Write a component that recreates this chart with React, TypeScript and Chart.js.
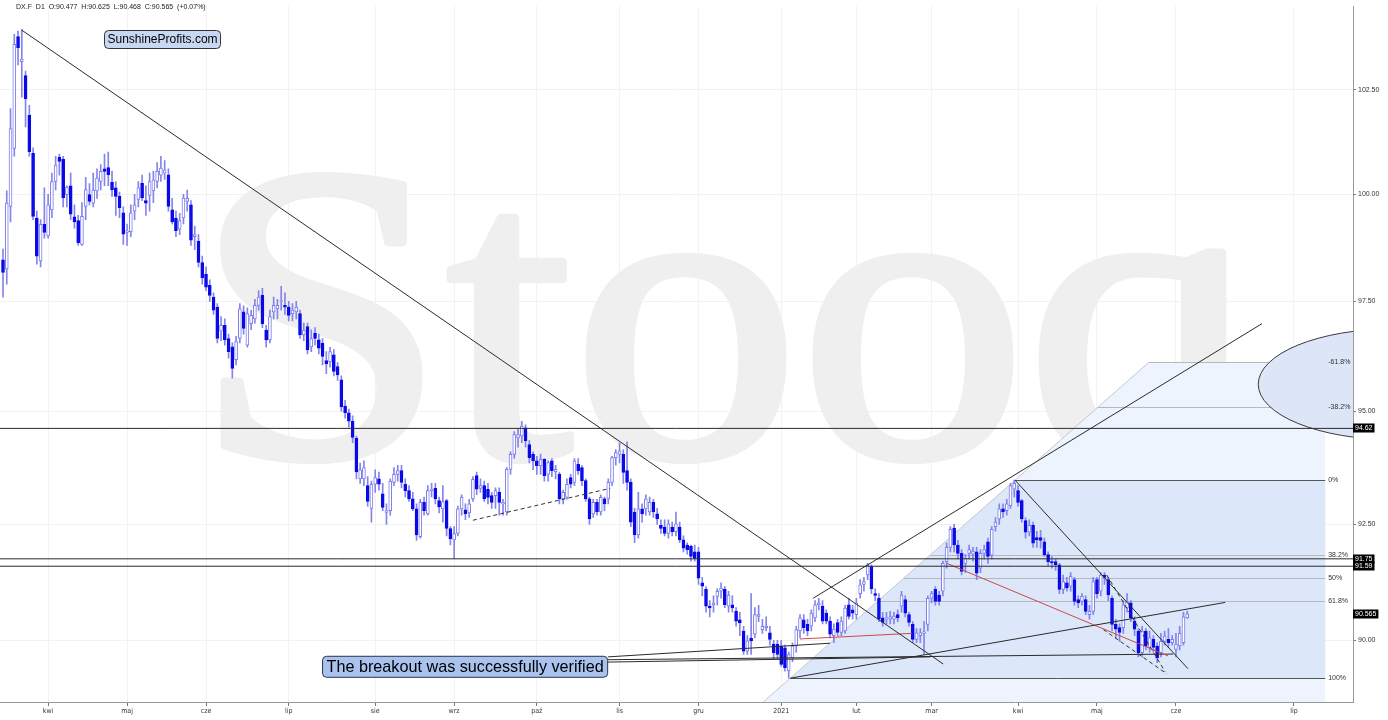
import React, { useEffect, useRef } from "react";
import { Chart, registerables } from "chart.js";

Chart.register(...registerables);

// ---- Daily candles of DX.F, each row [open, high, low, close] ----
const mar2020 = [
  [98.46, 98.71, 97.6, 98.17], [98.25, 100.08, 97.9, 99.79], [99.71, 102.04, 99.35, 101.56],
  [101.09, 103.85, 100.9, 103.6], [103.79, 103.93, 103.1, 103.52], [103.18, 103.97, 102.32, 103.24],
  [102.84, 102.95, 101.6, 102.28], [101.88, 102.12, 100.9, 101.01], [100.97, 101.1, 99.4, 99.48],
  [99.44, 99.6, 98.36, 98.55], [98.44, 99.4, 98.3, 99.29], [99.29, 100.15, 98.97, 99.1],
];
const apr2020 = [
  [99.02, 100.0, 98.97, 99.75], [99.63, 100.5, 99.45, 100.3], [100.3, 100.9, 100.1, 100.69],
  [100.88, 100.95, 100.45, 100.78], [100.83, 100.9, 99.7, 99.92], [99.99, 100.2, 99.7, 100.17],
  [100.2, 100.5, 99.4, 99.53], [99.47, 99.75, 99.2, 99.35], [99.38, 99.5, 98.8, 98.86],
  [98.82, 99.8, 98.8, 99.48], [99.71, 100.4, 99.4, 100.11], [99.99, 100.25, 99.75, 99.83],
  [99.79, 100.5, 99.7, 100.1], [100.08, 100.6, 99.9, 100.38], [100.3, 100.7, 100.1, 100.54],
  [100.6, 100.95, 100.2, 100.54], [100.63, 101.0, 100.2, 100.46], [100.28, 100.55, 99.95, 100.1],
  [100.15, 100.3, 99.5, 99.95], [99.95, 100.05, 99.45, 99.68], [99.56, 99.7, 98.82, 99.06],
];
const may2020 = [
  [99.1, 99.3, 98.8, 99.14], [99.12, 99.75, 99.0, 99.56], [99.6, 100.0, 99.4, 99.75],
  [99.88, 100.3, 99.7, 100.15], [100.26, 100.45, 99.85, 99.91], [99.85, 100.2, 99.5, 99.79],
  [99.97, 100.5, 99.6, 100.3], [100.08, 100.55, 99.8, 100.34], [100.3, 100.75, 100.15, 100.54],
  [100.45, 100.9, 100.3, 100.62], [100.5, 100.8, 100.35, 100.58], [100.46, 100.6, 99.6, 99.71],
  [99.63, 99.9, 99.3, 99.35], [99.44, 99.6, 99.0, 99.14], [99.18, 99.55, 99.05, 99.38],
  [99.44, 100.0, 99.3, 99.91], [99.83, 100.1, 99.6, 99.9], [99.75, 99.85, 98.8, 98.92],
  [99.0, 99.25, 98.7, 99.05], [98.9, 99.05, 98.3, 98.4], [98.4, 98.55, 97.9, 98.05],
];
const jun2020 = [
  [98.13, 98.3, 97.75, 97.83], [97.87, 98.0, 97.5, 97.64], [97.6, 97.7, 97.2, 97.3],
  [97.37, 97.45, 96.55, 96.65], [96.82, 97.15, 96.6, 96.95], [96.95, 97.1, 96.5, 96.62],
  [96.65, 96.75, 96.2, 96.35], [96.46, 96.55, 95.75, 95.97], [96.17, 96.7, 96.05, 96.58],
  [96.65, 97.45, 96.55, 97.33], [97.26, 97.4, 96.75, 96.88], [96.5, 97.35, 96.45, 97.22],
  [96.99, 97.3, 96.85, 97.18], [97.1, 97.55, 97.0, 97.41], [97.41, 97.75, 97.3, 97.6],
  [97.64, 97.8, 96.9, 96.99], [96.84, 96.95, 96.45, 96.62], [96.62, 97.3, 96.55, 97.15],
  [97.26, 97.6, 97.1, 97.41], [97.33, 97.55, 97.1, 97.41], [97.5, 97.85, 97.3, 97.52],
  [97.41, 97.7, 97.2, 97.37],
];
const jul2020 = [
  [97.37, 97.5, 97.05, 97.18], [97.22, 97.45, 97.05, 97.3], [97.26, 97.5, 97.1, 97.37],
  [97.22, 97.3, 96.65, 96.73], [96.73, 97.0, 96.6, 96.84], [96.92, 97.0, 96.3, 96.39],
  [96.46, 96.85, 96.35, 96.65], [96.77, 96.9, 96.5, 96.65], [96.62, 96.75, 96.3, 96.43],
  [96.54, 96.65, 96.05, 96.24], [96.15, 96.35, 95.85, 96.07], [96.12, 96.45, 96.0, 96.35],
  [96.28, 96.4, 95.8, 95.9], [96.01, 96.1, 95.7, 95.82], [95.71, 95.8, 95.0, 95.1],
  [95.12, 95.25, 94.85, 94.97], [94.97, 95.05, 94.65, 94.78], [94.78, 94.9, 94.3, 94.42],
  [94.4, 94.45, 93.5, 93.65], [93.5, 93.85, 93.4, 93.7], [93.5, 93.9, 93.35, 93.75],
  [93.35, 93.55, 92.9, 93.0], [92.85, 93.45, 92.55, 93.38],
];
const aug2020 = [
  [93.38, 93.7, 93.2, 93.53], [93.5, 93.65, 93.25, 93.38], [93.17, 93.4, 92.8, 92.87],
  [92.76, 92.95, 92.5, 92.8], [92.8, 93.5, 92.7, 93.45], [93.42, 93.75, 93.35, 93.6],
  [93.6, 93.8, 93.45, 93.68], [93.68, 93.8, 93.3, 93.42], [93.38, 93.5, 93.1, 93.24],
  [93.24, 93.35, 93.0, 93.06], [93.06, 93.2, 92.8, 92.84], [92.84, 92.95, 92.15, 92.27],
  [92.23, 93.05, 92.2, 92.98], [92.98, 93.1, 92.7, 92.8], [92.73, 93.35, 92.7, 93.24],
  [93.24, 93.4, 93.1, 93.27], [93.29, 93.4, 92.95, 93.06], [93.02, 93.1, 92.75, 92.88],
  [92.84, 93.35, 92.55, 93.0], [93.02, 93.05, 92.25, 92.41], [92.41, 92.45, 92.05, 92.19],
];
const sep2020 = [
  [92.16, 92.45, 91.76, 92.3], [92.3, 92.9, 92.25, 92.84], [92.84, 93.15, 92.7, 93.09],
  [92.82, 92.95, 92.6, 92.73], [92.75, 93.05, 92.65, 92.95], [93.06, 93.55, 93.0, 93.49],
  [93.57, 93.65, 93.15, 93.27], [93.29, 93.5, 93.2, 93.35], [93.35, 93.45, 93.0, 93.06],
  [93.27, 93.4, 92.95, 93.09], [93.13, 93.2, 92.85, 92.98], [93.13, 93.3, 92.85, 93.24],
  [93.2, 93.3, 92.7, 92.98], [92.95, 93.05, 92.7, 92.98], [92.77, 93.75, 92.7, 93.71],
  [93.71, 94.1, 93.6, 94.04], [94.04, 94.55, 93.95, 94.48], [94.41, 94.6, 94.2, 94.48],
  [94.45, 94.78, 94.3, 94.67], [94.63, 94.7, 94.2, 94.34], [94.26, 94.35, 93.85, 93.97],
  [94.04, 94.1, 93.7, 93.9],
];
const oct2020 = [
  [93.9, 94.0, 93.6, 93.79], [93.79, 94.05, 93.6, 93.93], [93.93, 93.95, 93.45, 93.57],
  [93.6, 93.9, 93.45, 93.86], [93.9, 93.95, 93.55, 93.68], [93.66, 93.8, 93.5, 93.71],
  [93.6, 93.65, 92.95, 93.06], [93.06, 93.25, 92.95, 93.2], [93.09, 93.5, 93.05, 93.38],
  [93.53, 93.6, 93.3, 93.38], [93.42, 93.95, 93.35, 93.9], [93.82, 93.95, 93.6, 93.68],
  [93.75, 93.8, 93.35, 93.46], [93.46, 93.5, 93.0, 93.06], [93.06, 93.1, 92.5, 92.62],
  [92.73, 93.05, 92.65, 92.98], [92.98, 93.05, 92.7, 92.77], [92.77, 93.15, 92.7, 93.09],
  [93.06, 93.1, 92.8, 92.95], [93.06, 93.5, 92.95, 93.42], [93.42, 94.0, 93.35, 93.97],
  [93.97, 94.15, 93.8, 94.08],
];
const nov2020 = [
  [94.04, 94.3, 93.85, 94.12], [94.04, 94.15, 93.4, 93.64], [93.68, 94.32, 93.25, 93.42],
  [93.42, 93.5, 92.45, 92.55], [92.77, 92.85, 92.1, 92.27], [92.27, 93.2, 92.2, 92.84],
  [92.84, 92.95, 92.55, 92.73], [92.84, 93.15, 92.7, 93.06], [92.77, 93.1, 92.7, 92.98],
  [92.98, 93.05, 92.65, 92.77], [92.73, 92.85, 92.5, 92.62], [92.48, 92.6, 92.3, 92.41],
  [92.44, 92.6, 92.25, 92.3], [92.3, 92.6, 92.2, 92.51], [92.44, 92.55, 92.25, 92.34],
  [92.34, 92.77, 92.25, 92.51], [92.44, 92.55, 92.1, 92.16], [92.16, 92.25, 91.9, 91.98],
  [92.05, 92.1, 91.85, 91.95], [92.02, 92.05, 91.7, 91.8], [91.9, 92.05, 91.7, 91.76],
];
const dec2020 = [
  [91.9, 92.0, 91.2, 91.33], [91.23, 91.35, 90.95, 91.16], [91.09, 91.15, 90.6, 90.73],
  [90.73, 90.85, 90.5, 90.69], [90.76, 90.95, 90.6, 90.8], [90.94, 91.1, 90.75, 91.05],
  [91.05, 91.23, 90.9, 91.12], [91.09, 91.15, 90.7, 90.76], [90.73, 91.05, 90.6, 90.97],
  [90.76, 90.95, 90.6, 90.69], [90.62, 90.7, 90.3, 90.41], [90.44, 90.6, 90.1, 90.37],
  [90.2, 90.3, 89.7, 89.77], [89.77, 90.1, 89.7, 89.99], [90.05, 91.0, 89.7, 89.99],
  [90.13, 90.7, 90.05, 90.55], [90.51, 90.75, 90.4, 90.55], [90.23, 90.45, 90.15, 90.3],
  [90.27, 90.5, 90.2, 90.31], [90.16, 90.3, 89.9, 90.02], [89.92, 90.0, 89.6, 89.74],
  [89.92, 90.0, 89.6, 89.7],
];
const jan2021 = [
  [89.88, 90.0, 89.45, 89.49], [89.84, 89.9, 89.35, 89.42], [89.36, 89.75, 89.2, 89.7],
  [89.63, 89.95, 89.55, 89.88], [89.88, 90.3, 89.75, 90.23], [90.2, 90.55, 90.05, 90.48],
  [90.44, 90.55, 90.15, 90.27], [90.34, 90.45, 90.1, 90.2], [90.3, 90.65, 90.2, 90.58],
  [90.48, 90.85, 90.4, 90.76], [90.76, 90.9, 90.65, 90.8], [90.73, 90.85, 90.35, 90.41],
  [90.58, 90.65, 90.35, 90.41], [90.41, 90.5, 90.05, 90.13], [90.1, 90.35, 89.95, 90.24],
  [90.38, 90.45, 90.1, 90.17], [90.17, 90.5, 90.1, 90.41], [90.2, 90.75, 90.15, 90.69],
  [90.76, 90.9, 90.45, 90.51], [90.65, 90.75, 90.45, 90.58],
];
const feb2021 = [
  [90.55, 90.9, 90.45, 90.8], [91.0, 91.3, 90.9, 91.19], [91.2, 91.35, 91.05, 91.26],
  [91.4, 91.65, 91.3, 91.62], [91.58, 91.62, 91.0, 91.1], [91.0, 91.1, 90.85, 90.96],
  [90.9, 91.0, 90.4, 90.45], [90.48, 90.6, 90.3, 90.38], [90.45, 90.6, 90.35, 90.48],
  [90.45, 90.62, 90.35, 90.5], [90.45, 90.6, 90.35, 90.52], [90.55, 90.65, 90.4, 90.48],
  [90.73, 91.05, 90.6, 90.97], [90.87, 90.95, 90.5, 90.58], [90.55, 90.6, 90.3, 90.38],
  [90.34, 90.4, 89.95, 90.02], [90.02, 90.25, 89.95, 90.16], [90.1, 90.25, 89.95, 90.16],
  [90.15, 90.4, 89.7, 90.18], [90.34, 90.95, 90.2, 90.9],
];
const mar2021 = [
  [90.9, 91.05, 90.8, 91.0], [91.09, 91.15, 90.75, 90.83], [90.97, 91.05, 90.75, 90.83],
  [91.05, 91.7, 90.95, 91.65], [91.69, 92.1, 91.55, 92.0], [92.0, 92.45, 91.9, 92.39],
  [92.42, 92.5, 91.9, 92.05], [92.05, 92.15, 91.75, 91.87], [91.87, 91.95, 91.4, 91.48],
  [91.65, 91.85, 91.45, 91.76], [91.87, 92.05, 91.75, 91.95], [91.85, 92.0, 91.7, 91.92],
  [91.9, 92.0, 91.3, 91.44], [91.55, 91.95, 91.45, 91.87], [91.87, 92.05, 91.75, 91.95],
  [92.12, 92.2, 91.65, 91.8], [91.83, 92.45, 91.75, 92.39], [92.45, 92.65, 92.35, 92.55],
  [92.62, 92.95, 92.5, 92.84], [92.84, 92.95, 92.65, 92.77], [92.8, 93.05, 92.7, 92.95],
  [92.91, 93.4, 92.85, 93.35], [93.27, 93.47, 93.1, 93.4],
];
const apr2021 = [
  [93.24, 93.35, 92.9, 92.98], [93.02, 93.05, 92.55, 92.62], [92.58, 92.65, 92.2, 92.33],
  [92.33, 92.6, 92.25, 92.48], [92.48, 92.55, 92.0, 92.09], [92.21, 92.35, 92.0, 92.16],
  [92.21, 92.37, 91.98, 92.15], [92.12, 92.2, 91.8, 91.84], [91.84, 91.9, 91.6, 91.69],
  [91.69, 91.8, 91.55, 91.66], [91.69, 91.75, 91.5, 91.62], [91.62, 91.65, 91.0, 91.09],
  [91.09, 91.4, 91.0, 91.26], [91.23, 91.35, 91.05, 91.12], [91.16, 91.45, 91.05, 91.37],
  [91.3, 91.35, 90.75, 90.83], [90.87, 90.95, 90.7, 90.8], [90.83, 91.0, 90.75, 90.94],
  [90.87, 90.95, 90.55, 90.62], [90.55, 90.75, 90.45, 90.62], [90.62, 91.35, 90.55, 91.26],
];
const may2021 = [
  [91.3, 91.35, 90.9, 91.0], [91.05, 91.45, 90.95, 91.4], [91.4, 91.45, 91.2, 91.35],
  [91.3, 91.35, 90.85, 90.97], [90.9, 90.95, 90.2, 90.34], [90.34, 90.45, 90.05, 90.24],
  [90.27, 90.35, 89.98, 90.17], [90.27, 90.85, 90.15, 90.76], [90.69, 91.0, 90.6, 90.83],
  [90.8, 90.85, 90.4, 90.48], [90.41, 90.5, 90.1, 90.24], [90.2, 90.25, 89.65, 89.74],
  [89.74, 90.3, 89.65, 90.2], [90.2, 90.25, 89.8, 89.88], [89.85, 90.2, 89.75, 90.06],
  [90.02, 90.1, 89.75, 89.85], [89.88, 89.95, 89.53, 89.63], [89.74, 90.15, 89.65, 89.98],
  [89.98, 90.2, 89.9, 90.09], [90.02, 90.25, 89.85, 89.95], [89.95, 90.1, 89.9, 90.02],
];
const jun2021 = [
  [89.81, 90.15, 89.65, 89.92], [89.88, 90.3, 89.8, 90.15], [89.95, 90.6, 89.9, 90.5],
  [90.477, 90.625, 90.468, 90.565],
];

const monthBlocks = [mar2020, apr2020, may2020, jun2020, jul2020, aug2020, sep2020, oct2020,
  nov2020, dec2020, jan2021, feb2021, mar2021, apr2021, may2021, jun2021];
// label of each month block (the first block starts mid-month and gets no tick)
const monthLabels = ["", "kwi", "maj", "cze", "lip", "sie", "wrz", "paź", "lis", "gru", "2021", "lut", "mar", "kwi", "maj", "cze"];
const futureLabel = "lip";
const futureOffset = 28.4; // sessions after the last candle

const yTickValues = [90, 92.5, 95, 97.5, 100, 102.5];
const levelPrices = [94.62, 91.75, 91.59];
const lastPrice = 90.565;
const headerText = "DX.F  D1  O:90.477  H:90.625  L:90.468  C:90.565  (+0.07%)";

const fibLevels = [-0.618, -0.382, 0, 0.382, 0.5, 0.618, 1];
const fibLabels = ["-61.8%", "-38.2%", "0%", "38.2%", "50%", "61.8%", "100%"];
const fibLow = [209.4, 89.2];
const fibHigh = [269.2, 93.47];
const fibRightEnd = 351.7;

// trend lines: [x1, price1, x2, price2] with x in sessions
const blackLines = [
  [5.0, 103.95, 250.1, 89.5],
  [215.5, 90.9, 334.9, 96.99],
  [209.4, 89.2, 325.1, 90.81],
  [269.2, 93.47, 315.2, 89.4],
];
const redLines = [
  [212.0, 90.03, 241.8, 90.15],
  [251.1, 91.65, 309.9, 89.67],
];
const dashedLines = [
  [125.0, 92.59, 161.5, 93.29],
  [293.6, 91.4, 309.1, 89.34],
  [292.7, 90.23, 309.6, 89.29],
];
const calloutLines = [
  [160.9, 89.65, 220.0, 89.94],
  [160.9, 89.59, 311.3, 89.71],
  [160.9, 89.54, 246.6, 89.65],
];
const calloutAnchor = [85.0, 89.43];
const ellipseBox = [333.9, 96.87, 405.8, 94.37];
const calloutText = "The breakout was successfully verified";
const brandText = "SunshineProfits.com";

const candles = monthBlocks.flat();
const lastIndex = candles.length - 1;
const monthStarts: number[] = [];
{
  let acc = 0;
  for (const m of monthBlocks) { monthStarts.push(acc); acc += m.length; }
}
const xTicks: { v: number; label: string }[] = [];
monthStarts.forEach((s, k) => { if (monthLabels[k]) xTicks.push({ v: s, label: monthLabels[k] }); });
xTicks.push({ v: lastIndex + futureOffset, label: futureLabel });

const FONT = "'Liberation Sans', Arial, Helvetica, sans-serif";

function segDataset(seg: number[], color: string, dash: number[] = [], width = 1) {
  return {
    type: "line" as const,
    data: [{ x: seg[0], y: seg[1] }, { x: seg[2], y: seg[3] }],
    borderColor: color,
    borderWidth: width,
    borderDash: dash,
    pointRadius: 0,
    tension: 0,
    fill: false,
    order: 0,
  };
}

function roundRect(ctx: CanvasRenderingContext2D, x: number, y: number, w: number, h: number, r: number) {
  ctx.beginPath();
  ctx.moveTo(x + r, y);
  ctx.lineTo(x + w - r, y);
  ctx.quadraticCurveTo(x + w, y, x + w, y + r);
  ctx.lineTo(x + w, y + h - r);
  ctx.quadraticCurveTo(x + w, y + h, x + w - r, y + h);
  ctx.lineTo(x + r, y + h);
  ctx.quadraticCurveTo(x, y + h, x, y + h - r);
  ctx.lineTo(x, y + r);
  ctx.quadraticCurveTo(x, y, x + r, y);
  ctx.closePath();
}

const overlayPlugin = {
  id: "overlay",
  beforeDatasetsDraw(chart: any) {
    const { ctx, chartArea: a, scales } = chart;
    const xs = scales.x, ys = scales.y;
    ctx.save();
    ctx.beginPath();
    ctx.rect(a.left, a.top, a.right - a.left, a.bottom - a.top);
    ctx.clip();

    // watermark
    ctx.save();
    ctx.translate(194, 456);
    ctx.scale(1.073, 1);
    ctx.fillStyle = "#efefef";
    ctx.strokeStyle = "#efefef";
    ctx.lineWidth = 8;
    ctx.lineJoin = "round";
    ctx.font = "423px 'Liberation Serif', 'Times New Roman', serif";
    ctx.textBaseline = "alphabetic";
    ctx.textAlign = "left";
    ctx.fillText("Stooq", 0, 0);
    ctx.strokeText("Stooq", 0, 0);
    ctx.restore();

    // fibonacci box
    const ax = xs.getPixelForValue(fibLow[0]), ay = ys.getPixelForValue(fibLow[1]);
    const bx = xs.getPixelForValue(fibHigh[0]), by = ys.getPixelForValue(fibHigh[1]);
    const diagX = (py: number) => ax + ((py - ay) * (bx - ax)) / (by - ay);
    const xr = xs.getPixelForValue(fibRightEnd);
    const lvY = fibLevels.map((L) => ys.getPixelForValue(fibHigh[1] - L * (fibHigh[1] - fibLow[1])));
    const yTop = lvY[0];
    const yBot = a.bottom;
    ctx.fillStyle = "#eef4fd";
    ctx.beginPath();
    ctx.moveTo(diagX(yTop), yTop);
    ctx.lineTo(xr, yTop);
    ctx.lineTo(xr, yBot);
    ctx.lineTo(diagX(yBot), yBot);
    ctx.closePath();
    ctx.fill();
    const y0 = lvY[2], y1 = lvY[6];
    ctx.fillStyle = "#dce8f9";
    ctx.beginPath();
    ctx.moveTo(diagX(y0), y0);
    ctx.lineTo(xr, y0);
    ctx.lineTo(xr, y1);
    ctx.lineTo(diagX(y1), y1);
    ctx.closePath();
    ctx.fill();
    // diagonal
    ctx.strokeStyle = "#c4c8d0";
    ctx.lineWidth = 1;
    ctx.beginPath();
    ctx.moveTo(diagX(yBot), yBot);
    ctx.lineTo(diagX(yTop), yTop);
    ctx.stroke();
    // levels
    lvY.forEach((py, k) => {
      const L = fibLevels[k];
      ctx.strokeStyle = L === 0 || L === 1 ? "#555" : "#b5b8bf";
      ctx.beginPath();
      ctx.moveTo(diagX(py), Math.round(py) + 0.5);
      ctx.lineTo(xr, Math.round(py) + 0.5);
      ctx.stroke();
    });

    // ellipse
    const ex1 = xs.getPixelForValue(ellipseBox[0]), ex2 = xs.getPixelForValue(ellipseBox[2]);
    const ey1 = ys.getPixelForValue(ellipseBox[1]), ey2 = ys.getPixelForValue(ellipseBox[3]);
    ctx.beginPath();
    ctx.ellipse((ex1 + ex2) / 2, (ey1 + ey2) / 2, (ex2 - ex1) / 2, (ey2 - ey1) / 2, 0, 0, Math.PI * 2);
    ctx.fillStyle = "#dde6f7";
    ctx.fill();
    ctx.strokeStyle = "#3a3a3a";
    ctx.stroke();

    // fib labels
    ctx.fillStyle = "#333";
    ctx.font = `7px ${FONT}`;
    ctx.textBaseline = "middle";
    ctx.textAlign = "left";
    lvY.forEach((py, k) => ctx.fillText(fibLabels[k], xr + 3, py));
    ctx.restore();
  },
  afterDatasetsDraw(chart: any) {
    const { ctx, scales } = chart;
    const xs = scales.x, ys = scales.y;
    ctx.save();
    // callout box
    const cbx = xs.getPixelForValue(calloutAnchor[0]), cby = ys.getPixelForValue(calloutAnchor[1]);
    ctx.font = `16.2px ${FONT}`;
    const tw = ctx.measureText(calloutText).width;
    roundRect(ctx, cbx, cby - 11, tw + 8, 21, 4);
    ctx.fillStyle = "#a9c2ee";
    ctx.fill();
    ctx.strokeStyle = "#2b3550";
    ctx.lineWidth = 1;
    ctx.stroke();
    ctx.fillStyle = "#000";
    ctx.textBaseline = "middle";
    ctx.textAlign = "left";
    ctx.fillText(calloutText, cbx + 4, cby + 0.5);

    // brand box
    ctx.font = `12px ${FONT}`;
    const bw = ctx.measureText(brandText).width;
    roundRect(ctx, 104.5, 30.5, bw + 6, 18, 4);
    ctx.fillStyle = "#c8d8f2";
    ctx.fill();
    ctx.strokeStyle = "#333";
    ctx.stroke();
    ctx.fillStyle = "#000";
    ctx.fillText(brandText, 107.5, 40);

    // header
    ctx.font = `7px ${FONT}`;
    ctx.fillStyle = "#222";
    ctx.fillText(headerText, 16, 7);
    ctx.restore();
  },
  afterDraw(chart: any) {
    const { ctx, chartArea: a, scales } = chart;
    const ys = scales.y;
    ctx.save();
    ctx.font = `7px ${FONT}`;
    ctx.textBaseline = "middle";
    ctx.textAlign = "left";
    const tags = [...levelPrices, lastPrice];
    tags.forEach((p) => {
      const py = ys.getPixelForValue(p);
      const txt = p === lastPrice ? p.toFixed(3) : p.toFixed(2);
      const w = ctx.measureText(txt).width + 4;
      ctx.fillStyle = "#000";
      ctx.fillRect(a.right, Math.round(py) - 4.5, w, 9);
      ctx.fillStyle = "#fff";
      ctx.fillText(txt, a.right + 2, Math.round(py));
    });
    ctx.restore();
  },
};

export default function App() {
  const ref = useRef<HTMLCanvasElement | null>(null);
  useEffect(() => {
    document.body.style.margin = "0";
    const bodyData = candles.map((c, i) => ({ x: i, y: [c[0], c[3]] }));
    const wickData = candles.map((c, i) => ({ x: i, y: [c[2], c[1]] }));
    const isUp = (i: number) => candles[i] && candles[i][3] >= candles[i][0];

    const datasets: any[] = [
      {
        type: "bar",
        data: wickData,
        backgroundColor: "#8484ec",
        borderWidth: 0,
        barThickness: 1,
        grouped: false,
        order: 2,
      },
      {
        type: "bar",
        data: bodyData,
        backgroundColor: (c: any) => (isUp(c.dataIndex) ? "#ffffff" : "#0a0ae8"),
        borderColor: (c: any) => (isUp(c.dataIndex) ? "#7c7cea" : "#0a0ae8"),
        borderWidth: 1,
        borderSkipped: false,
        barThickness: 3,
        grouped: false,
        order: 1,
      },
      ...levelPrices.map((p) => segDataset([-5, p, 400, p], "#2a2a2a")),
      ...blackLines.map((s) => segDataset(s, "#2a2a2a")),
      ...redLines.map((s) => segDataset(s, "#d04848")),
      ...dashedLines.map((s) => segDataset(s, "#333", [4, 3])),
      ...calloutLines.map((s) => segDataset(s, "#2a2a2a")),
    ];

    const chart = new Chart(ref.current as HTMLCanvasElement, {
      type: "bar",
      data: { datasets },
      options: {
        responsive: false,
        animation: false,
        devicePixelRatio: 1,
        events: [],
        layout: { padding: 0 },
        plugins: { legend: { display: false }, tooltip: { enabled: false } },
        scales: {
          x: {
            type: "linear",
            min: -0.8,
            max: 359.1,
            offset: false,
            grid: { offset: false, color: "#f2f2f2", drawTicks: true, tickLength: 4, tickColor: "#777" },
            border: { color: "#999" },
            ticks: {
              autoSkip: false,
              maxRotation: 0,
              padding: 1,
              color: "#333",
              font: { size: 7, family: "'DejaVu Sans Condensed', 'Liberation Sans Narrow', sans-serif" },
              callback: (v: any) => {
                const t = xTicks.find((q) => Math.abs(q.v - Number(v)) < 1e-6);
                return t ? t.label : "";
              },
            },
            afterBuildTicks: (s: any) => { s.ticks = xTicks.map((t) => ({ value: t.v })); },
            afterFit: (s: any) => { s.height = 18; },
          },
          y: {
            type: "logarithmic",
            position: "right",
            min: 88.7,
            max: 104.54,
            grid: { color: "#f2f2f2", drawTicks: true, tickLength: 3, tickColor: "#777" },
            border: { color: "#999" },
            ticks: {
              padding: 2,
              color: "#333",
              font: { size: 7, family: FONT },
              callback: (v: any) => Number(v).toFixed(2),
            },
            afterBuildTicks: (s: any) => { s.ticks = yTickValues.map((v) => ({ value: v })); },
            afterFit: (s: any) => { s.width = 35; },
          },
        },
      } as any,
      plugins: [overlayPlugin],
    });
    return () => chart.destroy();
  }, []);

  return (
    <div style={{ position: "fixed", left: 0, top: 0, width: 1388, height: 720, background: "#fff" }}>
      <canvas ref={ref} width={1388} height={720} style={{ display: "block", width: 1388, height: 720 }} />
    </div>
  );
}
